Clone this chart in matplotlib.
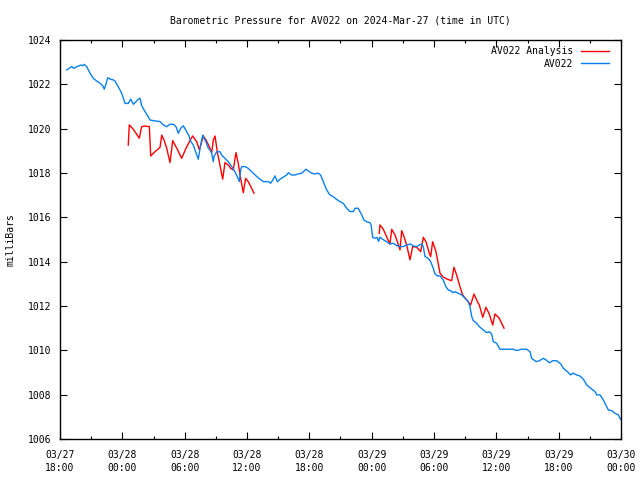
import matplotlib
matplotlib.use('Agg')
import matplotlib.pyplot as plt
import numpy as np

# hours since 03/27 18:00 UTC, pressure in mbar
obs_hours = [0.64, 1.13, 1.35, 1.61, 1.86, 1.99, 2.18, 2.31, 2.57, 2.89, 3.21, 3.53, 3.85, 4.11, 4.26, 4.40,
             4.59, 4.81, 5.13, 5.29, 5.61, 5.94, 6.26, 6.57, 6.81, 7.06, 7.32, 7.54, 7.70, 7.86, 8.18, 8.50,
             8.66, 9.14, 9.63, 9.94, 10.27, 10.59, 10.91, 11.17, 11.39, 11.62, 11.87, 12.20, 12.45, 12.51,
             12.83, 13.16, 13.31, 13.48, 13.74, 13.86, 14.05, 14.27, 14.44, 14.60, 14.76, 14.82, 15.08, 15.40,
             15.56, 15.88, 16.20, 16.53, 16.84, 17.07, 17.26, 17.39, 17.49, 17.81, 18.12, 18.45, 18.87, 19.25,
             19.57, 20.05, 20.28, 20.53, 20.69, 20.92, 21.18, 21.49, 21.82, 21.98, 22.30, 22.62, 22.94, 23.26,
             23.68, 24.00, 24.23, 24.54, 24.86, 25.09, 25.34, 25.67, 25.99, 26.31, 26.63, 26.95, 27.27, 27.60,
             27.91, 28.23, 28.40, 28.71, 29.04, 29.26, 29.52, 29.84, 29.94, 30.10, 30.32, 30.54, 30.66, 30.80,
             31.06, 31.45, 31.76, 32.08, 32.47, 32.73, 33.04, 33.37, 33.69, 34.01, 34.33, 34.58, 34.82, 34.97,
             35.13, 35.45, 35.68, 35.93, 36.09, 36.32, 36.58, 36.89, 37.15, 37.38, 37.61, 37.80, 38.02, 38.34,
             38.67, 38.98, 39.30, 39.46, 39.63, 39.78, 40.11, 40.36, 40.74, 41.07, 41.32, 41.55, 41.71, 42.03,
             42.35, 43.63, 43.96, 44.44, 44.92, 45.24, 45.40, 45.82, 46.14, 46.52, 46.78, 47.10, 47.43, 47.81,
             48.20, 48.45, 48.83, 49.16, 49.35, 49.74, 50.05, 50.37, 50.70, 51.08, 51.50, 51.66, 51.98, 52.30,
             52.62, 52.78, 53.10, 53.42, 53.74, 53.90, 54.00]
obs_mbar = [1022.65, 1022.80, 1022.72, 1022.80, 1022.84, 1022.87, 1022.84, 1022.90, 1022.80, 1022.50, 1022.27,
            1022.15, 1022.05, 1021.94, 1021.78, 1021.97, 1022.30, 1022.24, 1022.20, 1022.15, 1021.89, 1021.60,
            1021.14, 1021.14, 1021.33, 1021.10, 1021.22, 1021.33, 1021.37, 1021.04, 1020.77, 1020.54, 1020.39,
            1020.35, 1020.32, 1020.17, 1020.09, 1020.20, 1020.20, 1020.09, 1019.79, 1020.02, 1020.13, 1019.86,
            1019.64, 1019.49, 1019.26, 1018.81, 1018.62, 1019.12, 1019.71, 1019.57, 1019.41, 1019.12, 1019.04,
            1018.89, 1018.51, 1018.74, 1018.96, 1018.96, 1018.81, 1018.66, 1018.51, 1018.29, 1018.06, 1017.83,
            1017.61, 1018.14, 1018.29, 1018.29, 1018.21, 1018.06, 1017.87, 1017.72, 1017.61, 1017.61, 1017.54,
            1017.72, 1017.87, 1017.61, 1017.72, 1017.81, 1017.91, 1018.01, 1017.91, 1017.91, 1017.96, 1017.99,
            1018.17, 1018.06, 1017.99, 1017.96, 1017.99, 1017.91, 1017.61, 1017.23, 1017.01, 1016.93, 1016.81,
            1016.71, 1016.63, 1016.41, 1016.26, 1016.26, 1016.41, 1016.41, 1016.11, 1015.88, 1015.80, 1015.76,
            1015.66, 1015.09, 1015.06, 1015.09, 1014.91, 1015.10, 1015.01, 1014.90, 1014.80, 1014.83, 1014.71,
            1014.68, 1014.68, 1014.75, 1014.80, 1014.71, 1014.68, 1014.75, 1014.80, 1014.68, 1014.23, 1014.15,
            1014.00, 1013.70, 1013.45, 1013.36, 1013.36, 1013.17, 1012.87, 1012.72, 1012.69, 1012.60, 1012.65,
            1012.57, 1012.50, 1012.35, 1012.20, 1011.97, 1011.52, 1011.34, 1011.22, 1011.07, 1010.92, 1010.80,
            1010.84, 1010.74, 1010.39, 1010.32, 1010.05, 1010.05, 1009.99, 1010.05, 1010.05, 1009.94, 1009.64,
            1009.49, 1009.53, 1009.64, 1009.57, 1009.44, 1009.53, 1009.53, 1009.39, 1009.19, 1009.04, 1008.89,
            1008.97, 1008.89, 1008.84, 1008.70, 1008.44, 1008.29, 1008.14, 1007.99, 1007.99, 1007.76, 1007.46,
            1007.31, 1007.28, 1007.16, 1007.09, 1006.94, 1006.86]

# analysis runs (two separate segments)
ana1_hours = [6.57, 6.67, 7.06, 7.63, 7.86, 8.18, 8.60, 8.73, 9.14, 9.63, 9.79, 10.01, 10.27, 10.59, 10.85,
              11.29, 11.71, 12.13, 12.51, 12.77, 13.16, 13.41, 13.64, 13.79, 14.05, 14.37, 14.60, 14.76, 14.92,
              15.14, 15.33, 15.66, 15.88, 16.20, 16.43, 16.68, 16.94, 17.16, 17.33, 17.64, 17.87, 18.12, 18.45,
              18.67]
ana1_mbar = [1019.26, 1020.17, 1019.97, 1019.57, 1020.09, 1020.12, 1020.09, 1018.77, 1018.96, 1019.16, 1019.71,
             1019.49, 1019.12, 1018.47, 1019.46, 1019.07, 1018.66, 1019.12, 1019.46, 1019.67, 1019.41, 1019.04,
             1019.41, 1019.67, 1019.49, 1019.19, 1018.92, 1019.49, 1019.67, 1018.96, 1018.51, 1017.72, 1018.47,
             1018.36, 1018.21, 1018.14, 1018.92, 1018.44, 1017.91, 1017.11, 1017.76, 1017.61, 1017.31, 1017.09]
ana2_hours = [30.73, 30.80, 31.12, 31.50, 31.76, 31.93, 32.25, 32.47, 32.73, 32.89, 33.11, 33.37, 33.69, 33.95,
              34.33, 34.72, 34.97, 35.23, 35.55, 35.68, 35.87, 36.19, 36.58, 36.89, 37.28, 37.70, 37.92, 38.18,
              38.50, 38.76, 39.15, 39.53, 39.85, 40.17, 40.36, 40.69, 41.00, 41.32, 41.65, 41.87, 42.28, 42.74]
ana2_mbar = [1015.28, 1015.66, 1015.46, 1015.06, 1014.80, 1015.46, 1015.20, 1014.90, 1014.53, 1015.40, 1015.13,
             1014.75, 1014.08, 1014.68, 1014.65, 1014.45, 1015.10, 1014.90, 1014.38, 1014.23, 1014.90, 1014.45,
             1013.48, 1013.30, 1013.21, 1013.14, 1013.75, 1013.40, 1012.87, 1012.50, 1012.27, 1012.05, 1012.54,
             1012.20, 1012.05, 1011.49, 1011.94, 1011.64, 1011.14, 1011.64, 1011.45, 1011.00]

tick_hours = [0, 6, 12, 18, 24, 30, 36, 42, 48, 54]
tick_labels = ['03/27\n18:00', '03/28\n00:00', '03/28\n06:00', '03/28\n12:00', '03/28\n18:00',
               '03/29\n00:00', '03/29\n06:00', '03/29\n12:00', '03/29\n18:00', '03/30\n00:00']
y_ticks = [1006, 1008, 1010, 1012, 1014, 1016, 1018, 1020, 1022, 1024]

plt.rcParams['font.family'] = 'DejaVu Sans Mono'
plt.rcParams['font.size'] = 7

fig = plt.figure(figsize=(6.4, 4.8), dpi=100)
ax = fig.add_axes([60 / 640, 41 / 480, 561 / 640, 399 / 480])

# analysis segments joined with a NaN gap
a_h = ana1_hours + [np.nan] + ana2_hours
a_p = ana1_mbar + [np.nan] + ana2_mbar
ax.plot(a_h, a_p, color='#ff0000', lw=1.0, label='AV022 Analysis')
ax.plot(obs_hours, obs_mbar, color='#0a80f0', lw=1.0, label='AV022')

ax.set_xlim(0, 54)
ax.set_ylim(1006, 1024)
ax.set_xticks(tick_hours)
ax.set_xticklabels(tick_labels, linespacing=1.3)
ax.set_xticks(np.arange(3, 54, 6), minor=True)
ax.set_yticks(y_ticks)
ax.tick_params(which='both', direction='in', top=True, right=True, length=5, width=0.8)
ax.tick_params(which='minor', length=2.5)
ax.tick_params(axis='x', pad=8)
ax.tick_params(axis='y', pad=6)
for s in ax.spines.values():
    s.set_linewidth(1.0)

ax.set_title('Barometric Pressure for AV022 on 2024-Mar-27 (time in UTC)', fontsize=7, pad=12)
ax.set_ylabel('milliBars', labelpad=9)

ax.legend(loc='upper right', bbox_to_anchor=(1 - 6 / 561, 1), frameon=False, markerfirst=False,
          handlelength=2.8, borderaxespad=0.25, labelspacing=0.25, handletextpad=0.8, alignment='right')

fig.savefig('out.png', dpi=100)
